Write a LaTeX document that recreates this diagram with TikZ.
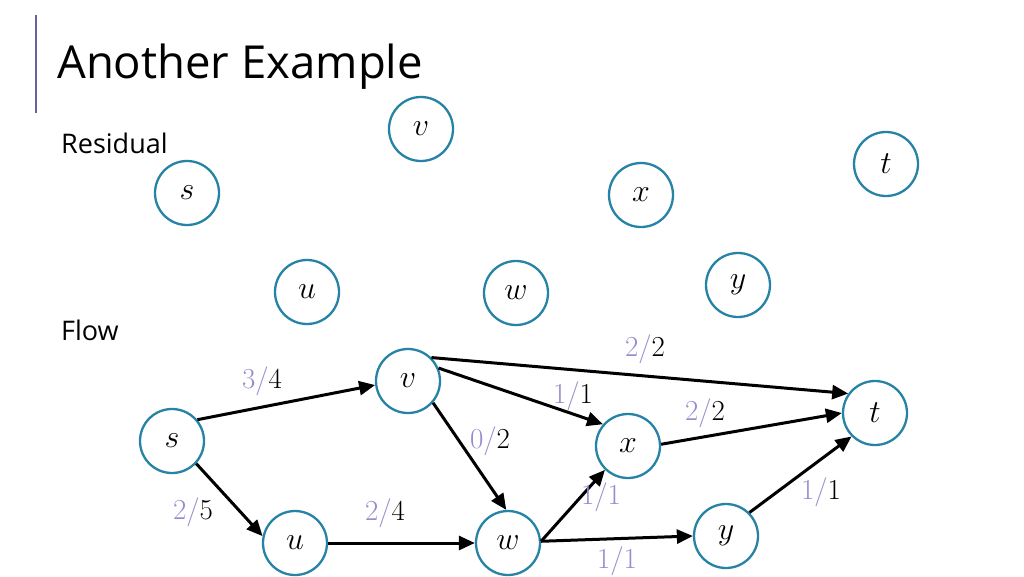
\RequirePackage{fix-cm}
\documentclass[tikz,border=0pt]{standalone}
\usepackage{fontspec}
\setmainfont{Open Sans}
\newfontfamily\lmserif{Latin Modern Roman}
\usetikzlibrary{arrows.meta}
\definecolor{ring}{RGB}{38,131,165}
\definecolor{lav}{RGB}{150,140,205}
\definecolor{barc}{RGB}{110,95,150}
\tikzset{
  vert/.style={circle, draw=ring, line width=2.3pt, fill=white, minimum size=64pt, inner sep=0pt,
     font=\fontsize{32}{34}\selectfont},
  edge/.style={line width=3pt, -{Triangle[length=16pt,width=14pt]}},
  lbl/.style={font=\lmserif\fontsize{29}{31}\selectfont, inner sep=0pt},
}
\newcommand{\fl}[2]{\textcolor{lav}{#1/}#2}
\begin{document}
\begin{tikzpicture}[x=1pt,y=-1pt]
\useasboundingbox (0,0) rectangle (1024,576);
\draw[barc, line width=1.5pt] (36,15) -- (36,113);
\node[anchor=base west, inner sep=0pt, font=\fontsize{45.5}{48}\selectfont] (title) at (57,78) {Another Example};
\node[anchor=base west, inner sep=0pt, font=\fontsize{27}{29}\selectfont] (res) at (61,153) {Residual};
\node[anchor=base west, inner sep=0pt, font=\fontsize{27}{29}\selectfont] (flowl) at (61,340) {Flow};
% residual graph nodes
\node[vert] (rv) at (421,129) {$v$};
\node[vert] (rs) at (187,193) {$s$};
\node[vert] (rx) at (641,195) {$x$};
\node[vert] (rt) at (886,164) {$t$};
\node[vert] (ru) at (307,292) {$u$};
\node[vert] (rw) at (516,293) {$w$};
\node[vert] (ry) at (738,285) {$y$};
% flow graph nodes
\node[vert] (v) at (408,381) {$v$};
\node[vert] (s) at (172,441) {$s$};
\node[vert] (x) at (628,446) {$x$};
\node[vert] (t) at (875,413) {$t$};
\node[vert] (u) at (295,543) {$u$};
\node[vert] (w) at (508,543) {$w$};
\node[vert] (y) at (726,536) {$y$};
% edges
\draw[edge] (s.40) -- (v.187);
\draw[edge] (s.-43) -- (u.168);
\draw[edge] (u.east) -- (w.west);
\draw[edge] (v.-41) -- (w.93);
\draw[edge] (v.23) -- (x.139);
\draw[edge] (v.45) -- (t.144);
\draw[edge] (x.3) -- (t.180);
\draw[edge] (w.3) -- (x.-134);
\draw[edge] (w.3) -- (y.180);
\draw[edge] (y.45) -- (t.-135);
% labels
\node[lbl] (l1) at (262,381) {\fl{3}{4}};
\node[lbl] (l2) at (193,512) {\fl{2}{5}};
\node[lbl] (l3) at (385,513) {\fl{2}{4}};
\node[lbl] (l4) at (490,441) {\fl{0}{2}};
\node[lbl] (l5) at (573,396) {\fl{1}{1}};
\node[lbl] (l6) at (645,349) {\fl{2}{2}};
\node[lbl] (l7) at (705,413) {\fl{2}{2}};
\node[lbl, text=lav] (l8) at (601,497) {1/1};
\node[lbl, text=lav] (l9) at (617,561) {1/1};
\node[lbl] (l10) at (821,492) {\fl{1}{1}};
\end{tikzpicture}
\end{document}
